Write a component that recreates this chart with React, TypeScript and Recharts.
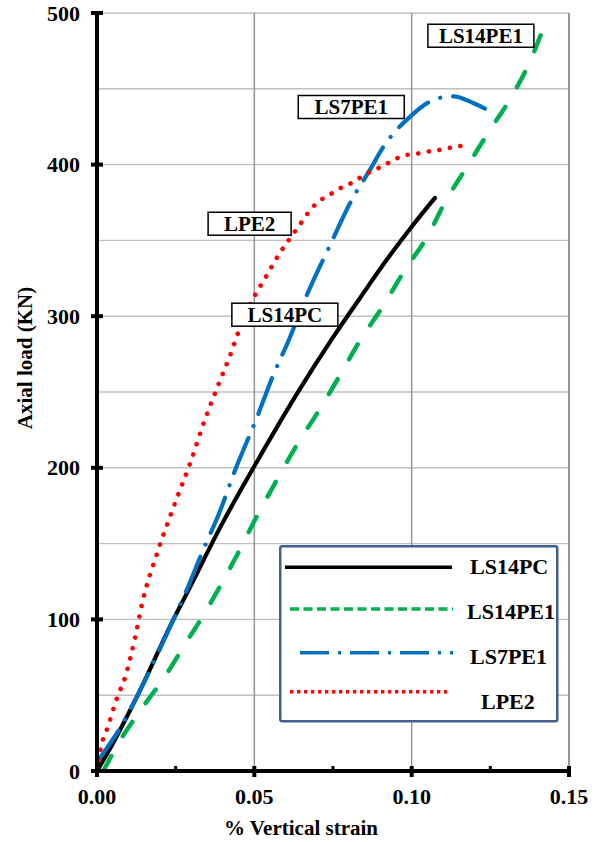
import { LineChart, Line, XAxis, YAxis, CartesianGrid, ReferenceLine, ReferenceDot, Legend } from 'recharts'

// LS14PC (black, solid)
const ls14pcStrain = [0, 0.005, 0.0134, 0.0243, 0.0285, 0.04, 0.05, 0.0645, 0.075, 0.0836, 0.092, 0.1, 0.1074]
const ls14pcLoad = [0, 18, 52, 100, 117, 164, 201, 252, 286, 312, 337, 359, 378]

// LS14PE1 (green, dashed)
const ls14pe1Strain = [0.002, 0.0073, 0.0145, 0.0218, 0.029, 0.0333, 0.0386, 0.0449, 0.0508, 0.0569, 0.0635, 0.0709, 0.0772, 0.0836, 0.091, 0.0977, 0.1048, 0.1111, 0.118, 0.1246, 0.1318, 0.1376, 0.1413]
const ls14pe1Load = [0, 20, 42, 63, 87, 101, 120, 144, 168, 191, 215, 239, 261, 284, 307, 330, 352, 377, 400, 422, 445, 468, 487]

// LS7PE1 (blue, dash-dot)
const ls7pe1Strain = [0, 0.0078, 0.0134, 0.0243, 0.028, 0.0338, 0.039, 0.0439, 0.0507, 0.0558, 0.0611, 0.0667, 0.0741, 0.0804, 0.0873, 0.0908, 0.0997, 0.1053, 0.11, 0.1135, 0.1175, 0.1233]
const ls7pe1Load = [6, 30, 52, 100, 117, 146, 171, 198.5, 232.5, 260, 285, 314, 347, 374.5, 398.5, 411, 432, 441, 444.5, 445, 442.5, 437]

// LPE2 (red, dotted)
const lpe2Strain = [0, 0.0012, 0.0036, 0.006, 0.0091, 0.0121, 0.0145, 0.019, 0.0243, 0.0296, 0.0345, 0.0386, 0.0428, 0.0452, 0.05, 0.0537, 0.0576, 0.0619, 0.064, 0.0686, 0.0714, 0.0746, 0.0778, 0.081, 0.0841, 0.0876, 0.0908, 0.0942, 0.0976, 0.1011, 0.1048, 0.1083, 0.112, 0.1157]
const lpe2Load = [0, 15, 30, 46, 63, 88, 112, 143, 174, 203, 233, 255, 277, 291, 313, 326, 340, 353, 359, 372, 377, 381, 385, 388, 392, 396, 399, 403, 406, 407, 408.5, 409.5, 411, 412.3]

const xTicks = [0, 0.025, 0.05, 0.075, 0.1, 0.125, 0.15]
const xMajorTicks = [0, 0.05, 0.1, 0.15]
const yTicks = [0, 50, 100, 150, 200, 250, 300, 350, 400, 450, 500]
const xGridLines = [0.05, 0.1, 0.15]

// boxed labels on the plot
const tagNames = ['LS14PE1', 'LS7PE1', 'LPE2', 'LS14PC']
const tagStrain = [0.122, 0.0808, 0.0485, 0.0597]
const tagLoad = [485, 438, 361, 301]

const FONT = "'Liberation Serif', 'Times New Roman', serif"

const pair = (xs: number[], ys: number[]) => xs.map((x, i) => ({ strain: x, load: ys[i] }))

const series = [
  { name: 'LS14PC', data: pair(ls14pcStrain, ls14pcLoad), color: '#000000', dash: undefined, width: 4.2, legendDash: undefined },
  { name: 'LS14PE1', data: pair(ls14pe1Strain, ls14pe1Load), color: '#00b050', dash: '17 23', width: 4.5, legendDash: '9 4.5' },
  { name: 'LS7PE1', data: pair(ls7pe1Strain, ls7pe1Load), color: '#0070c0', dash: '38 13 0.1 13', width: 4.2, legendDash: '29 9 3 9' },
  { name: 'LPE2', data: pair(lpe2Strain, lpe2Load), color: '#ff0000', dash: '0.1 10.6', width: 4.6, legendDash: '3.3 3.7' },
]

const textStyle = { fontFamily: FONT, fontWeight: 'bold' as const, fontSize: 22, fill: '#000' }
const titleStyle = { ...textStyle, fontSize: 21 }

function XTick({ x, y, payload }: any) {
  const v = payload.value
  const major = xMajorTicks.includes(v)
  return (
    <g>
      <line x1={x} x2={x} y1={y - 5} y2={major ? y + 6 : y} stroke="#000" strokeWidth={major ? 4 : 3} />
      {major && (
        <text x={x} y={y + 33} textAnchor="middle" style={textStyle}>
          {v.toFixed(2)}
        </text>
      )}
    </g>
  )
}

function YTick({ x, y, payload }: any) {
  const v = payload.value
  if (v % 100 !== 0) return <g />
  return (
    <g>
      <line x1={x - 6} x2={x + 6} y1={y} y2={y} stroke="#000" strokeWidth={4} />
      <text x={x - 17} y={y + 7.5} textAnchor="end" style={textStyle}>
        {v}
      </text>
    </g>
  )
}

function Tag({ cx, cy, text }: any) {
  const w = text.length > 4 ? 106 : 83
  const h = 23
  return (
    <g>
      <rect x={cx - w / 2} y={cy - h / 2} width={w} height={h} fill="#fff" stroke="#000" strokeWidth={1.5} />
      <text x={cx} y={cy + 7.5} textAnchor="middle" style={titleStyle}>
        {text}
      </text>
    </g>
  )
}

const legendRows = [
  { x1: 6, x2: 173, ly: 22.3, tx: 191, ty: 29 },
  { x1: 11, x2: 174, ly: 64, tx: 188, ty: 74 },
  { x1: 21, x2: 174, ly: 107.7, tx: 191, ty: 118.5 },
  { x1: 11, x2: 168, ly: 146.7, tx: 202, ty: 164 },
]

function LegendBox() {
  return (
    <svg width={280} height={178} style={{ display: 'block' }}>
      <rect x={1.25} y={1.25} width={277} height={175} rx={2} fill="#fff" stroke="#41608f" strokeWidth={2.5} />
      {series.map((s, i) => {
        const r = legendRows[i]
        return (
          <g key={s.name}>
            <line x1={r.x1} x2={r.x2} y1={r.ly} y2={r.ly} stroke={s.color} strokeWidth={s.legendDash ? 3.4 : 3.6} strokeDasharray={s.legendDash} />
            <text x={r.tx} y={r.ty} style={textStyle}>
              {s.name}
            </text>
          </g>
        )
      })}
    </svg>
  )
}

export default function App() {
  return (
    <div style={{ width: 598, height: 842, background: '#fff', position: 'relative' }}>
      <style>{'body{margin:0}'}</style>
      <LineChart width={598} height={842} margin={{ top: 13, right: 29, bottom: 41, left: 37 }}>
        <CartesianGrid vertical={false} stroke="#c0c0c0" strokeWidth={1.4} />
        {xGridLines.map((v) => (
          <ReferenceLine key={v} x={v} stroke="#959595" strokeWidth={v === 0.15 ? 2 : 1.5} />
        ))}
        <XAxis
          type="number"
          dataKey="strain"
          domain={[0, 0.15]}
          ticks={xTicks}
          height={30}
          tickSize={0}
          tickMargin={0}
          tickLine={false}
          axisLine={{ stroke: '#000', strokeWidth: 4 }}
          tick={(p: any) => <XTick {...p} />}
          interval={0}
          allowDataOverflow
          label={{
            content: () => (
              <text x={301} y={835} textAnchor="middle" style={titleStyle}>
                % Vertical strain
              </text>
            ),
          }}
        />
        <YAxis
          type="number"
          dataKey="load"
          domain={[0, 500]}
          ticks={yTicks}
          width={60}
          tickSize={0}
          tickMargin={0}
          tickLine={false}
          axisLine={{ stroke: '#000', strokeWidth: 4 }}
          tick={(p: any) => <YTick {...p} />}
          interval={0}
          allowDataOverflow
          label={{
            content: () => (
              <text x={32} y={358} textAnchor="middle" transform="rotate(-90, 32, 358)" style={titleStyle}>
                Axial load (KN)
              </text>
            ),
          }}
        />
        {series.map((s) => (
          <Line
            key={s.name}
            name={s.name}
            data={s.data}
            dataKey="load"
            type="monotone"
            stroke={s.color}
            strokeWidth={s.width}
            strokeDasharray={s.dash}
            strokeLinecap="round"
            dot={false}
            activeDot={false}
            isAnimationActive={false}
          />
        ))}
        {tagNames.map((t, i) => (
          <ReferenceDot key={t} x={tagStrain[i]} y={tagLoad[i]} r={0} shape={(p: any) => <Tag cx={p.cx} cy={p.cy} text={t} />} />
        ))}
        <Legend
          layout="horizontal"
          verticalAlign="middle"
          align="center"
          wrapperStyle={{ position: 'absolute', left: 279, top: 545, right: 'auto', bottom: 'auto', width: 280, height: 178 }}
          content={() => <LegendBox />}
        />
      </LineChart>
    </div>
  )
}
